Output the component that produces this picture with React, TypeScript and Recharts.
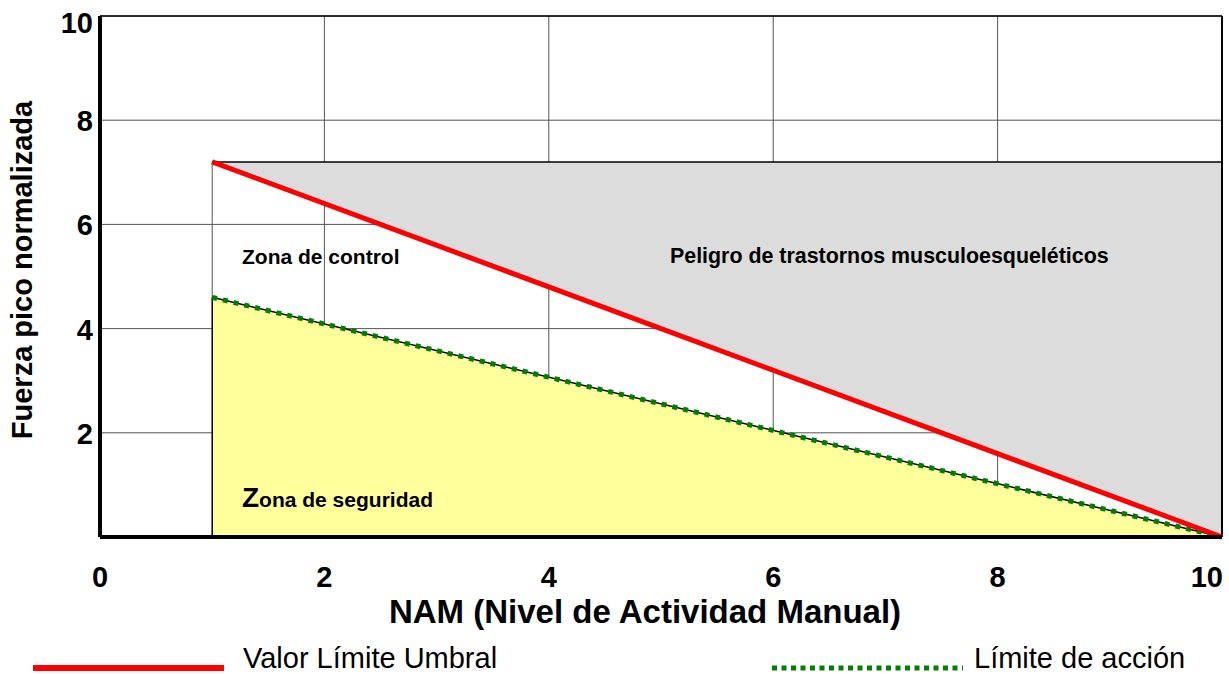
import {
  ComposedChart, Area, Line, XAxis, YAxis, CartesianGrid, ReferenceLine,
} from "recharts";

// NAM values where the limit lines start and end
const nam = [1, 10];
// Valor Límite Umbral (TLV) line
const tlv = [7.2, 0];
// Límite de acción line
const actionLimit = [4.6, 0];
// upper edge of the danger zone
const dangerTop = [7.2, 7.2];

const xTicks = [0, 2, 4, 6, 8, 10];
const yTicks = [2, 4, 6, 8, 10];

const data = nam.map((x, i) => ({
  x,
  tlv: tlv[i],
  al: actionLimit[i],
  danger: [tlv[i], dangerTop[i]],
}));

const FONT = "Arial, 'Liberation Sans', Helvetica, sans-serif";
const RED = "#ff0000";
const GREEN = "#008000";
const GRAY = "#dcdcdc";
const YELLOW = "#ffff9c";
const GRID = "#555555";

const XTick = ({ x, y, payload }: any) => {
  const last = payload.value === 10;
  return (
    <text
      x={last ? x + 1 : x}
      y={y + 42}
      textAnchor={last ? "end" : "middle"}
      fontFamily={FONT}
      fontWeight={700}
      fontSize={29}
      fill="#000"
    >
      {payload.value}
    </text>
  );
};

const YTick = ({ x, y, payload }: any) => (
  <text
    x={x + 1}
    y={y + (payload.value === 10 ? 17 : 11)}
    textAnchor="end"
    fontFamily={FONT}
    fontWeight={700}
    fontSize={29}
    fill="#000"
  >
    {payload.value}
  </text>
);

export default function App() {
  const textStyle = {
    position: "absolute" as const,
    fontFamily: FONT,
    fontWeight: "bold" as const,
    color: "#000",
    whiteSpace: "nowrap" as const,
    lineHeight: 1,
  };

  return (
    <div style={{ position: "absolute", left: 0, top: 0, width: 1229, height: 674, background: "#fff", overflow: "hidden" }}>
      <ComposedChart
        width={1229}
        height={674}
        data={data}
        margin={{ top: 16, right: 7, bottom: 97, left: 0 }}
      >
        <XAxis
          dataKey="x"
          type="number"
          domain={[0, 10]}
          ticks={xTicks}
          interval={0}
          height={40}
          axisLine={{ stroke: "#000", strokeWidth: 4 }}
          tickLine={false}
          tick={<XTick />}
        />
        <YAxis
          type="number"
          domain={[0, 10]}
          ticks={yTicks}
          interval={0}
          width={100}
          axisLine={{ stroke: "#000", strokeWidth: 4 }}
          tickLine={false}
          tick={<YTick />}
        />
        <Area
          dataKey="danger"
          type="linear"
          fill={GRAY}
          fillOpacity={1}
          stroke="#000"
          strokeWidth={1.5}
          isAnimationActive={false}
        />
        <Area
          dataKey="al"
          type="linear"
          fill={YELLOW}
          fillOpacity={1}
          stroke="none"
          isAnimationActive={false}
        />
        <CartesianGrid stroke={GRID} strokeWidth={1} />
        <ReferenceLine y={10} stroke="#000" strokeWidth={1.5} />
        <ReferenceLine x={10} stroke="#000" strokeWidth={2} />
        <ReferenceLine
          segment={[{ x: nam[0], y: actionLimit[0] }, { x: nam[0], y: dangerTop[0] }]}
          stroke={GRID}
          strokeWidth={1}
        />
        <ReferenceLine
          segment={[{ x: nam[0], y: 0 }, { x: nam[0], y: actionLimit[0] }]}
          stroke="#000"
          strokeWidth={1.5}
        />
        <Line
          dataKey="al"
          type="linear"
          stroke="#000"
          strokeWidth={1.5}
          dot={false}
          isAnimationActive={false}
        />
        <Line
          dataKey="al"
          type="linear"
          stroke={GREEN}
          strokeWidth={5}
          strokeDasharray="5 6"
          dot={false}
          isAnimationActive={false}
        />
        <Line
          dataKey="tlv"
          type="linear"
          stroke={RED}
          strokeWidth={5}
          dot={false}
          isAnimationActive={false}
        />
      </ComposedChart>

      {/* axis titles */}
      <div
        style={{
          ...textStyle,
          fontSize: 29,
          left: 22,
          top: 270,
          transform: "translate(-50%, -50%) rotate(-90deg)",
        }}
      >
        Fuerza pico normalizada
      </div>
      <div style={{ ...textStyle, fontSize: 33, left: 645, top: 611, transform: "translate(-50%, -50%)" }}>
        NAM (Nivel de Actividad Manual)
      </div>

      {/* zone labels */}
      <div style={{ ...textStyle, fontSize: 21, left: 242, top: 246 }}>Zona de control</div>
      <div style={{ ...textStyle, fontSize: 21.4, left: 670, top: 246 }}>
        Peligro de trastornos musculoesqueléticos
      </div>
      <div style={{ ...textStyle, fontSize: 21, left: 242, top: 484 }}>
        <span style={{ fontSize: 28 }}>Z</span>ona de seguridad
      </div>

      {/* legend */}
      <div style={{ position: "absolute", left: 33, top: 665, width: 191, height: 6, background: RED }} />
      <div style={{ ...textStyle, fontWeight: "normal", fontSize: 29, left: 243, top: 644 }}>
        Valor Límite Umbral
      </div>
      <svg style={{ position: "absolute", left: 770, top: 664 }} width={195} height={8}>
        <line x1={2} y1={4} x2={193} y2={4} stroke={GREEN} strokeWidth={5} strokeDasharray="5 4.5" />
      </svg>
      <div style={{ ...textStyle, fontWeight: "normal", fontSize: 29, left: 974, top: 644 }}>
        Límite de acción
      </div>
    </div>
  );
}
